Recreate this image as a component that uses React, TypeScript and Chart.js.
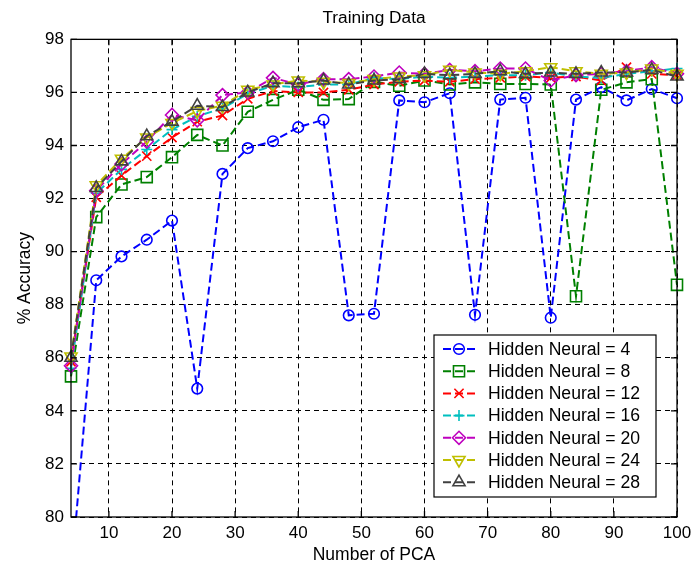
import React, { useEffect, useRef } from 'react';
import { Chart, registerables } from 'chart.js';
import { drawPoint } from 'chart.js/helpers';

Chart.register(...registerables);

// ---- Data ----
const pcaCounts = [4, 8, 12, 16, 20, 24, 28, 32, 36, 40, 44, 48, 52, 56, 60, 64, 68, 72, 76, 80, 84, 88, 92, 96, 100];
const xTickValues = [10, 20, 30, 40, 50, 60, 70, 80, 90, 100];
const yTickValues = [80, 82, 84, 86, 88, 90, 92, 94, 96, 98];

const neural4 = [77.7, 88.92, 89.82, 90.45, 91.17, 84.84, 92.93, 93.9, 94.16, 94.69, 94.97, 87.6, 87.66, 95.7, 95.63, 95.97, 87.62, 95.73, 95.8, 87.51, 95.73, 96.2, 95.7, 96.13, 95.78];
const neural8 = [85.3, 91.3, 92.53, 92.81, 93.56, 94.4, 94.0, 95.27, 95.72, 96.1, 95.72, 95.75, 96.4, 96.25, 96.45, 96.3, 96.38, 96.32, 96.32, 96.3, 88.32, 96.1, 96.38, 96.5, 88.75];
const neural12 = [85.85, 92.05, 92.87, 93.6, 94.3, 94.9, 95.13, 95.76, 96.05, 96.0, 96.0, 96.1, 96.3, 96.4, 96.45, 96.4, 96.5, 96.55, 96.6, 96.55, 96.6, 96.45, 96.95, 96.7, 96.65];
const neural16 = [85.6, 92.2, 93.1, 93.85, 94.6, 95.1, 95.4, 95.95, 96.25, 96.2, 96.3, 96.3, 96.55, 96.5, 96.6, 96.55, 96.6, 96.65, 96.65, 96.75, 96.6, 96.55, 96.7, 96.8, 96.9];
const neural20 = [85.7, 92.3, 93.3, 94.15, 95.15, 94.95, 95.9, 96.0, 96.55, 96.3, 96.5, 96.5, 96.6, 96.75, 96.7, 96.85, 96.8, 96.9, 96.9, 96.45, 96.65, 96.7, 96.8, 96.95, 96.7];
const neural24 = [86.05, 92.5, 93.5, 94.3, 94.85, 95.3, 95.5, 96.1, 96.3, 96.45, 96.4, 96.35, 96.5, 96.6, 96.65, 96.85, 96.75, 96.7, 96.8, 96.95, 96.8, 96.7, 96.75, 96.9, 96.7];
const neural28 = [86.0, 92.4, 93.4, 94.35, 94.9, 95.5, 95.45, 96.0, 96.35, 96.35, 96.45, 96.3, 96.45, 96.5, 96.7, 96.65, 96.7, 96.8, 96.7, 96.75, 96.7, 96.75, 96.75, 96.85, 96.6];

const seriesValues = [neural4, neural8, neural12, neural16, neural20, neural24, neural28];
const seriesLabels = [
  'Hidden Neural = 4',
  'Hidden Neural = 8',
  'Hidden Neural = 12',
  'Hidden Neural = 16',
  'Hidden Neural = 20',
  'Hidden Neural = 24',
  'Hidden Neural = 28',
];

// ---- Styles ----
const seriesColors = ['#0000ff', '#008000', '#ff0000', '#00bfbf', '#bf00bf', '#bfbf00', '#404040'];
const seriesMarkers = [
  { style: 'circle', radius: 5.3, rotation: 0 },
  { style: 'rect', radius: 7.8, rotation: 0 },
  { style: 'crossRot', radius: 6.5, rotation: 0 },
  { style: 'cross', radius: 5.5, rotation: 0 },
  { style: 'rectRot', radius: 6.5, rotation: 0 },
  { style: 'triangle', radius: 7, rotation: 180 },
  { style: 'triangle', radius: 7, rotation: 0 },
];
const FONT_FAMILY = '"Liberation Sans", Arial, Helvetica, sans-serif';
const LINE_DASH = [8, 4];
const GRID_DASH = [5, 4];

const matlabFrame = {
  id: 'matlabFrame',
  afterDraw(chart: any) {
    const { ctx, chartArea: a, scales } = chart;
    ctx.save();
    // axes box
    ctx.setLineDash([]);
    ctx.strokeStyle = '#000';
    ctx.lineWidth = 1.3;
    ctx.strokeRect(a.left, a.top, a.right - a.left, a.bottom - a.top);
    // inward ticks on all four sides
    const tl = 6;
    ctx.beginPath();
    for (const v of xTickValues) {
      const px = scales.x.getPixelForValue(v);
      ctx.moveTo(px, a.bottom);
      ctx.lineTo(px, a.bottom - tl);
      ctx.moveTo(px, a.top);
      ctx.lineTo(px, a.top + tl);
    }
    for (const v of yTickValues) {
      const py = scales.y.getPixelForValue(v);
      ctx.moveTo(a.left, py);
      ctx.lineTo(a.left + tl, py);
      ctx.moveTo(a.right, py);
      ctx.lineTo(a.right - tl, py);
    }
    ctx.stroke();

    // legend box (bottom-right inside the axes)
    const boxW = 222;
    const boxH = 162;
    const boxRight = a.right - 21;
    const boxBottom = a.bottom - 20;
    const bx = boxRight - boxW;
    const by = boxBottom - boxH;
    ctx.fillStyle = '#ffffff';
    ctx.fillRect(bx, by, boxW, boxH);
    ctx.lineWidth = 1.2;
    ctx.strokeStyle = '#000';
    ctx.strokeRect(bx, by, boxW, boxH);

    const rowStart = by + 14;
    const rowGap = 22.2;
    ctx.font = `17.6px ${FONT_FAMILY}`;
    ctx.textBaseline = 'middle';
    ctx.textAlign = 'left';
    seriesLabels.forEach((label, i) => {
      const y = rowStart + i * rowGap;
      const color = seriesColors[i];
      ctx.strokeStyle = color;
      ctx.lineWidth = 2;
      ctx.setLineDash(LINE_DASH);
      ctx.beginPath();
      ctx.moveTo(bx + 9, y);
      ctx.lineTo(bx + 41, y);
      ctx.stroke();
      ctx.setLineDash([]);
      const m = seriesMarkers[i];
      ctx.lineWidth = 1.6;
      ctx.strokeStyle = color;
      ctx.fillStyle = 'rgba(0,0,0,0)';
      drawPoint(ctx, { pointStyle: m.style, rotation: m.rotation, radius: m.radius, borderWidth: 1.6 } as any, bx + 25, y);
      ctx.fillStyle = '#000';
      ctx.fillText(label, bx + 54, y + 1);
    });
    ctx.restore();
  },
};

export default function App() {
  const canvasRef = useRef<HTMLCanvasElement | null>(null);

  useEffect(() => {
    document.body.style.margin = '0';
    const canvas = canvasRef.current;
    if (!canvas) return;

    const datasets = seriesValues.map((vals, i) => ({
      label: seriesLabels[i],
      data: pcaCounts.map((x, j) => ({ x, y: vals[j] })),
      borderColor: seriesColors[i],
      backgroundColor: 'rgba(0,0,0,0)',
      borderWidth: 2,
      borderDash: LINE_DASH,
      pointStyle: seriesMarkers[i].style,
      pointRotation: seriesMarkers[i].rotation,
      pointRadius: seriesMarkers[i].radius,
      pointBorderColor: seriesColors[i],
      pointBackgroundColor: 'rgba(0,0,0,0)',
      pointBorderWidth: 1.6,
      tension: 0,
      fill: false,
      order: seriesValues.length - i,
      clip: { left: 12, top: 12, right: 12, bottom: 0 },
    }));

    const tickFont = { family: FONT_FAMILY, size: 17, weight: 'normal' as const, lineHeight: 1.2 };

    const chart = new Chart(canvas, {
      type: 'line',
      data: { datasets: datasets as any },
      options: {
        animation: false,
        responsive: false,
        events: [],
        layout: { padding: { left: 0, right: 15, top: 0, bottom: 0 } },
        plugins: {
          legend: { display: false },
          tooltip: { enabled: false },
          title: {
            display: true,
            text: 'Training Data',
            fullSize: false,
            color: '#000',
            font: { family: FONT_FAMILY, size: 17.3, weight: 'normal', lineHeight: 1.2 },
            padding: { top: 8.3, bottom: 10.3 },
          },
        },
        scales: {
          x: {
            type: 'linear',
            min: 4,
            max: 100,
            afterBuildTicks: (s: any) => {
              s.ticks = xTickValues.map((v) => ({ value: v }));
            },
            afterFit: (s: any) => {
              s.height = 47;
              s.paddingLeft = 0;
              s.paddingRight = 0;
            },
            grid: { color: '#000', lineWidth: 1, drawTicks: false },
            border: { display: false, dash: GRID_DASH },
            ticks: { color: '#000', font: tickFont, padding: 6, maxRotation: 0, autoSkip: false },
            title: {
              display: true,
              text: 'Number of PCA',
              color: '#000',
              font: { family: FONT_FAMILY, size: 17.5, weight: 'normal', lineHeight: 1 },
              padding: { top: 0, bottom: 0 },
            },
          },
          y: {
            type: 'linear',
            min: 80,
            max: 98,
            afterBuildTicks: (s: any) => {
              s.ticks = yTickValues.map((v) => ({ value: v }));
            },
            afterFit: (s: any) => {
              s.width = 71;
            },
            grid: { color: '#000', lineWidth: 1, drawTicks: false },
            border: { display: false, dash: GRID_DASH },
            ticks: { color: '#000', font: tickFont, padding: 7 },
            title: {
              display: true,
              text: '% Accuracy',
              color: '#000',
              font: { family: FONT_FAMILY, size: 17.5, weight: 'normal', lineHeight: 1 },
              padding: { top: 16.5, bottom: 0 },
            },
          },
        },
      } as any,
      plugins: [matlabFrame],
    });

    return () => {
      chart.destroy();
    };
  }, []);

  return (
    <div style={{ width: 692, height: 564, background: '#ffffff' }}>
      <canvas ref={canvasRef} width={692} height={564} style={{ display: 'block' }} />
    </div>
  );
}
